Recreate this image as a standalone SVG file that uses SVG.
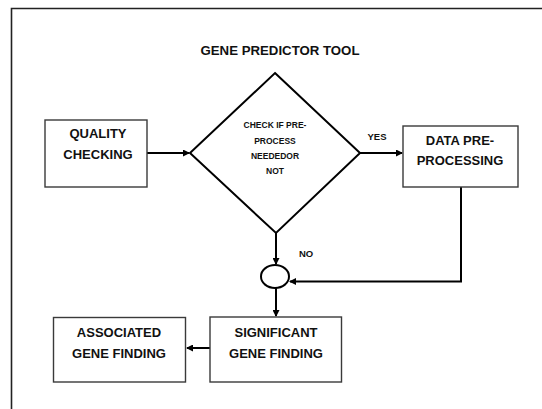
<svg xmlns="http://www.w3.org/2000/svg" width="542" height="409" viewBox="0 0 542 409">
<defs>
<style>
.box{fill:#fff;stroke:#3a3a3a;stroke-width:1.4}
.dia{fill:#fff;stroke:#000;stroke-width:2}
.con{fill:none;stroke:#000;stroke-width:2}
.t{font-family:"Liberation Sans",Arial,sans-serif;font-weight:bold;fill:#111;text-anchor:middle}
.lbl{font-size:13px}
.sm{font-size:8.5px}
.lab{font-size:9.5px}
</style>
<marker id="ah" markerWidth="7" markerHeight="7" refX="6" refY="3.5" orient="auto" markerUnits="userSpaceOnUse">
<path d="M0,0 L7,3.5 L0,7 z" fill="#000"/>
</marker>
</defs>
<rect width="542" height="409" fill="#fff"/>
<path d="M11.5,420 V8.5 H560" fill="none" stroke="#222" stroke-width="1.6"/>
<text class="t" x="280" y="55" font-size="13.5" textLength="159" lengthAdjust="spacingAndGlyphs">GENE PREDICTOR TOOL</text>

<g id="connectors">
<line class="con" x1="147" y1="153" x2="189" y2="153" marker-end="url(#ah)"/>
<line class="con" x1="360" y1="153" x2="402" y2="153" marker-end="url(#ah)"/>
<line class="con" x1="276" y1="233" x2="276" y2="264" marker-end="url(#ah)"/>
<path class="con" d="M461,187 V281.5 H290" marker-end="url(#ah)"/>
<line class="con" x1="276" y1="288" x2="276" y2="316" marker-end="url(#ah)"/>
<line class="con" x1="210" y1="348" x2="187" y2="348" marker-end="url(#ah)"/>
<text class="t lab" x="377" y="140">YES</text>
<text class="t lab" x="306" y="257">NO</text>
</g>

<g id="quality">
<rect class="box" x="45" y="120" width="102" height="67"/>
<text class="t lbl" x="98" y="138">QUALITY</text>
<text class="t lbl" x="98" y="159">CHECKING</text>
</g>

<g id="decision">
<polygon class="dia" points="275,73 360,153 276,233 190,153"/>
<text class="t sm" x="275" y="128">CHECK IF PRE-</text>
<text class="t sm" x="275" y="144">PROCESS</text>
<text class="t sm" x="275" y="159">NEEDEDOR</text>
<text class="t sm" x="275" y="174">NOT</text>
</g>

<g id="preprocessing">
<rect class="box" x="403" y="126" width="115" height="61"/>
<text class="t lbl" x="460" y="145">DATA PRE-</text>
<text class="t lbl" x="460" y="165">PROCESSING</text>
</g>

<g id="merge">
<ellipse cx="275" cy="276.5" rx="14" ry="11.5" fill="#fff" stroke="#000" stroke-width="2"/>
</g>

<g id="significant">
<rect class="box" x="210" y="317" width="131.5" height="65"/>
<text class="t lbl" x="276" y="337">SIGNIFICANT</text>
<text class="t lbl" x="276" y="358">GENE FINDING</text>
</g>

<g id="associated">
<rect class="box" x="53.5" y="317.5" width="132" height="64.5"/>
<text class="t lbl" x="119" y="337">ASSOCIATED</text>
<text class="t lbl" x="119" y="358">GENE FINDING</text>
</g>
</svg>
